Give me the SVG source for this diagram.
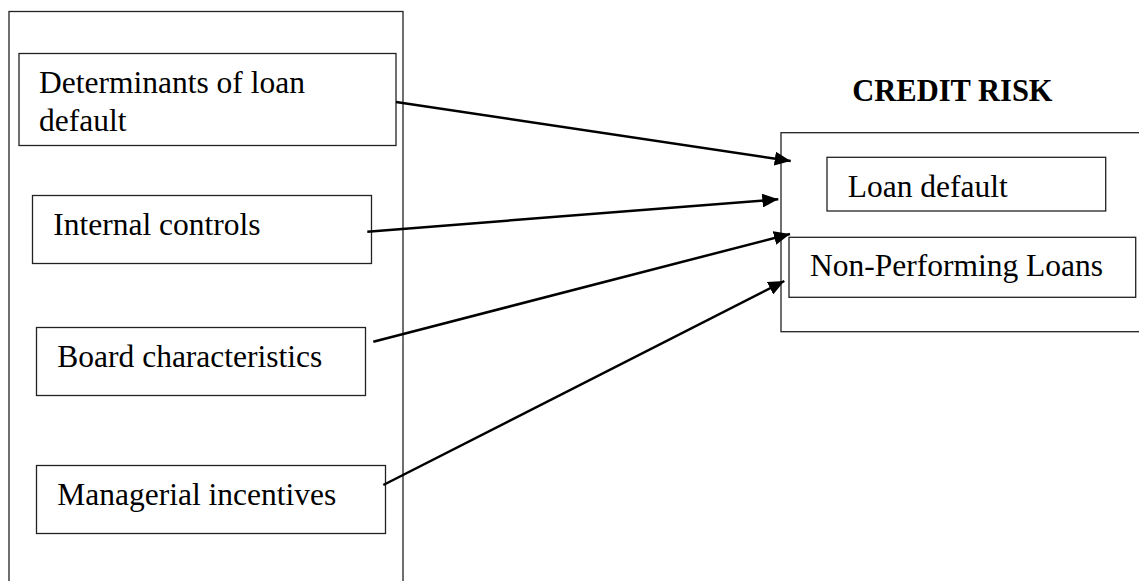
<svg xmlns="http://www.w3.org/2000/svg" width="1139" height="581" viewBox="0 0 1139 581">
<style>
.box{fill:#fff;stroke:#222;stroke-width:1.3}
.t{font-family:"Liberation Serif",serif;font-size:31.5px;fill:#000}
.h{font-family:"Liberation Serif",serif;font-size:30.5px;font-weight:bold;fill:#000}
.c{stroke:#000;stroke-width:2.5;fill:none}
</style>
<defs>
<marker id="ah" markerUnits="userSpaceOnUse" markerWidth="18" markerHeight="14" refX="16" refY="7" orient="auto">
<path d="M0,0 L16,7 L0,14 Z" fill="#000"/>
</marker>
</defs>
<rect width="1139" height="581" fill="#fff"/>
<g id="left-panel">
<rect class="box" x="9" y="11.5" width="394" height="600"/>
</g>
<g id="n-determinants">
<rect class="box" x="19" y="53.5" width="377" height="92"/>
<text class="t" x="39" y="92.5">Determinants of loan</text>
<text class="t" x="39" y="131">default</text>
</g>
<g id="n-internal">
<rect class="box" x="32.5" y="195.5" width="339" height="68"/>
<text class="t" x="53.3" y="235">Internal controls</text>
</g>
<g id="n-board">
<rect class="box" x="36.5" y="327.5" width="329" height="68"/>
<text class="t" x="57.3" y="366.7">Board characteristics</text>
</g>
<g id="n-managerial">
<rect class="box" x="36.5" y="465.5" width="349" height="68"/>
<text class="t" x="57.3" y="505">Managerial incentives</text>
</g>
<g id="n-credit-risk">
<text class="h" x="852.3" y="100.7">CREDIT RISK</text>
<rect class="box" x="781" y="132.7" width="370" height="199"/>
</g>
<g id="n-loan-default">
<rect class="box" x="827" y="157.3" width="278.7" height="53.7"/>
<text class="t" x="847.7" y="196.7">Loan default</text>
</g>
<g id="n-npl">
<rect class="box" x="789" y="237.3" width="346.7" height="60"/>
<text class="t" x="810" y="275.7">Non-Performing Loans</text>
</g>
<g id="connectors">
<line class="c" x1="396" y1="102" x2="790.7" y2="161" marker-end="url(#ah)"/>
<line class="c" x1="367.3" y1="231.7" x2="778.3" y2="199.3" marker-end="url(#ah)"/>
<line class="c" x1="373.3" y1="341.7" x2="790" y2="234" marker-end="url(#ah)"/>
<line class="c" x1="383.3" y1="485" x2="784.3" y2="281" marker-end="url(#ah)"/>
</g>
</svg>
